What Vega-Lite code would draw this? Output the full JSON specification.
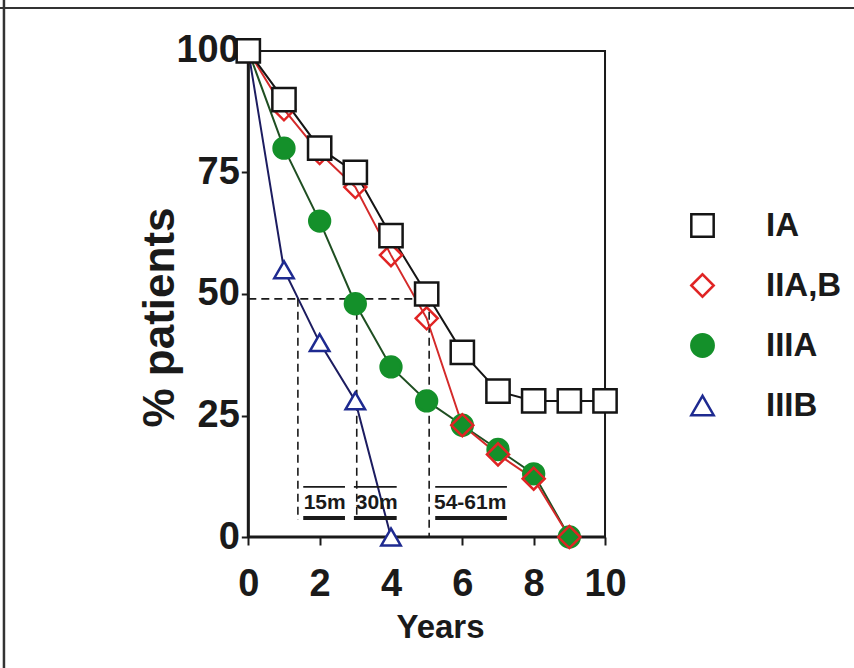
{
  "$schema": "https://vega.github.io/schema/vega-lite/v6.json",
  "width": 854,
  "height": 668,
  "autosize": {"type": "none"},
  "padding": 0,
  "background": "white",
  "config": {
    "view": {"stroke": null},
    "font": "Liberation Sans",
    "axis": {"grid": false, "domain": false}
  },
  "datasets": {
    "surv": [
      {"series": "IIIB", "year": 0, "pct": 100},
      {"series": "IIIB", "year": 1, "pct": 55},
      {"series": "IIIB", "year": 2, "pct": 40},
      {"series": "IIIB", "year": 3, "pct": 28},
      {"series": "IIIB", "year": 4, "pct": 0},
      {"series": "IIIA", "year": 0, "pct": 100},
      {"series": "IIIA", "year": 1, "pct": 80},
      {"series": "IIIA", "year": 2, "pct": 65},
      {"series": "IIIA", "year": 3, "pct": 48},
      {"series": "IIIA", "year": 4, "pct": 35},
      {"series": "IIIA", "year": 5, "pct": 28},
      {"series": "IIIA", "year": 6, "pct": 23},
      {"series": "IIIA", "year": 7, "pct": 18},
      {"series": "IIIA", "year": 8, "pct": 13},
      {"series": "IIIA", "year": 9, "pct": 0},
      {"series": "IIA,B", "year": 0, "pct": 100},
      {"series": "IIA,B", "year": 1, "pct": 88},
      {"series": "IIA,B", "year": 2, "pct": 79},
      {"series": "IIA,B", "year": 3, "pct": 72},
      {"series": "IIA,B", "year": 4, "pct": 58},
      {"series": "IIA,B", "year": 5, "pct": 45},
      {"series": "IIA,B", "year": 6, "pct": 23},
      {"series": "IIA,B", "year": 7, "pct": 17},
      {"series": "IIA,B", "year": 8, "pct": 12},
      {"series": "IIA,B", "year": 9, "pct": 0},
      {"series": "IA", "year": 0, "pct": 100},
      {"series": "IA", "year": 1, "pct": 90},
      {"series": "IA", "year": 2, "pct": 80},
      {"series": "IA", "year": 3, "pct": 75},
      {"series": "IA", "year": 4, "pct": 62},
      {"series": "IA", "year": 5, "pct": 50},
      {"series": "IA", "year": 6, "pct": 38},
      {"series": "IA", "year": 7, "pct": 30},
      {"series": "IA", "year": 8, "pct": 28},
      {"series": "IA", "year": 9, "pct": 28},
      {"series": "IA", "year": 10, "pct": 28}
    ],
    "median": [
      {"x": 0, "y": 49, "x2": 5.07, "y2": 49},
      {"x": 1.39, "y": 49, "x2": 1.39, "y2": 3.5},
      {"x": 3.04, "y": 49, "x2": 3.04, "y2": 3.5},
      {"x": 5.07, "y": 49, "x2": 5.07, "y2": 0}
    ],
    "ann": [
      {"label": "15m", "x": 1.54, "x2": 2.71, "xt": 2.14},
      {"label": "30m", "x": 2.96, "x2": 4.16, "xt": 3.6},
      {"label": "54-61m", "x": 5.24, "x2": 7.25, "xt": 6.22}
    ]
  },
  "resolve": {"axis": {"x": "independent", "y": "independent"}},
  "layer": [
    {
      "data": {"name": "surv"},
      "mark": {"type": "line", "strokeWidth": 2},
      "encoding": {
        "x": {
          "field": "year", "type": "quantitative",
          "scale": {"domain": [-6.961, 16.98], "nice": false, "zero": false},
          "axis": {
            "orient": "bottom", "offset": -131, "values": [0, 2, 4, 6, 8, 10],
            "labelFontSize": 38, "labelFontWeight": "bold", "labelColor": "#1a1a1a",
            "labelPadding": 20, "labelFlush": false, "labelOverlap": false,
            "tickSize": 8, "tickWidth": 2, "tickColor": "#1a1a1a",
            "title": "Years", "titleFontSize": 33, "titleFontWeight": "bold", "titleColor": "#1a1a1a",
            "titleX": 440, "titleY": 100, "titleAlign": "center", "titleBaseline": "alphabetic"
          }
        },
        "y": {
          "field": "pct", "type": "quantitative",
          "scale": {"domain": [-26.95, 110.49], "nice": false, "zero": false},
          "axis": {
            "orient": "left", "offset": -248.3, "values": [0, 25, 50, 75, 100],
            "labelFontSize": 38, "labelFontWeight": "bold", "labelColor": "#1a1a1a",
            "labelPadding": 2, "labelFlush": false, "labelOverlap": false,
            "tickSize": 7, "tickWidth": 2, "tickColor": "#1a1a1a",
            "title": "% patients", "titleFontSize": 44, "titleFontWeight": "bold", "titleColor": "#1a1a1a",
            "titleX": -88, "titleY": 317, "titleAngle": 270, "titleAlign": "center", "titleBaseline": "middle"
          }
        },
        "color": {
          "field": "series", "type": "nominal",
          "scale": {"domain": ["IIIB", "IIIA", "IIA,B", "IA"], "range": ["#1c1c60", "#1f4f22", "#d42a2a", "#151515"]},
          "legend": null
        }
      }
    },
    {
      "data": {"values": [{}]},
      "mark": {"type": "rule", "stroke": "#333333", "strokeWidth": 2.5},
      "encoding": {
        "x": {"datum": -6.85, "type": "quantitative", "axis": null}
      }
    },
    {
      "data": {"values": [{}]},
      "mark": {"type": "rule", "stroke": "#333333", "strokeWidth": 2},
      "encoding": {
        "y": {"datum": 108.85, "type": "quantitative", "axis": null}
      }
    },
    {
      "data": {"values": [{}]},
      "mark": {"type": "rect", "fillOpacity": 0, "stroke": "#1a1a1a", "strokeWidth": 2},
      "encoding": {
        "x": {"datum": 0, "type": "quantitative", "axis": null},
        "x2": {"datum": 10},
        "y": {"datum": 0, "type": "quantitative", "axis": null},
        "y2": {"datum": 100}
      }
    },
    {
      "data": {"name": "median"},
      "mark": {"type": "rule", "stroke": "#1a1a1a", "strokeWidth": 1.6, "strokeDash": [8, 5]},
      "encoding": {
        "x": {"field": "x", "type": "quantitative", "axis": null},
        "x2": {"field": "x2"},
        "y": {"field": "y", "type": "quantitative", "axis": null},
        "y2": {"field": "y2"}
      }
    },
    {
      "data": {"name": "ann"},
      "mark": {"type": "rule", "stroke": "#1a1a1a", "strokeWidth": 1.8},
      "encoding": {
        "x": {"field": "x", "type": "quantitative", "axis": null},
        "x2": {"field": "x2"},
        "y": {"datum": 10.3, "type": "quantitative", "axis": null}
      }
    },
    {
      "data": {"name": "ann"},
      "mark": {"type": "rule", "stroke": "#1a1a1a", "strokeWidth": 4},
      "encoding": {
        "x": {"field": "x", "type": "quantitative", "axis": null},
        "x2": {"field": "x2"},
        "y": {"datum": 3.9, "type": "quantitative", "axis": null}
      }
    },
    {
      "data": {"name": "ann"},
      "mark": {"type": "text", "font": "Liberation Sans", "fontSize": 21, "fontWeight": "bold", "color": "#1a1a1a", "align": "center", "baseline": "middle"},
      "encoding": {
        "x": {"field": "xt", "type": "quantitative", "axis": null},
        "y": {"datum": 6.9, "type": "quantitative", "axis": null},
        "text": {"field": "label"}
      }
    },
    {
      "data": {"values": [{}]},
      "mark": {"type": "rule", "stroke": "#1a1a1a", "strokeWidth": 3},
      "encoding": {
        "x": {"datum": 0, "type": "quantitative", "axis": null},
        "y": {"datum": 0, "type": "quantitative", "axis": null},
        "y2": {"datum": 100}
      }
    },
    {
      "data": {"values": [{}]},
      "mark": {"type": "rule", "stroke": "#1a1a1a", "strokeWidth": 3},
      "encoding": {
        "x": {"datum": 0, "type": "quantitative", "axis": null},
        "x2": {"datum": 10},
        "y": {"datum": 0, "type": "quantitative", "axis": null}
      }
    },
    {
      "data": {"name": "surv"},
      "mark": {"type": "point", "opacity": 1, "fillOpacity": 1, "strokeWidth": 2.5},
      "encoding": {
        "x": {"field": "year", "type": "quantitative", "axis": null},
        "y": {"field": "pct", "type": "quantitative", "axis": null},
        "shape": {
          "field": "series", "type": "nominal",
          "scale": {"domain": ["IA", "IIA,B", "IIIA", "IIIB"], "range": ["square", "diamond", "circle", "triangle-up"]},
          "legend": {"title": null, "orient": "none", "legendX": 686, "legendY": 209, "direction": "vertical", "padding": 0,
            "labelFontSize": 33, "labelFontWeight": "bold", "labelColor": "#1a1a1a", "labelOffset": 47, "rowPadding": 26,
            "symbolSize": 500, "symbolStrokeWidth": 2.5}
        },
        "stroke": {
          "field": "series", "type": "nominal",
          "scale": {"domain": ["IA", "IIA,B", "IIIA", "IIIB"], "range": ["#151515", "#e02424", "#14902a", "#1e2a90"]},
          "legend": {"title": null, "orient": "none", "legendX": 686, "legendY": 209, "direction": "vertical", "padding": 0,
            "labelFontSize": 33, "labelFontWeight": "bold", "labelColor": "#1a1a1a", "labelOffset": 47, "rowPadding": 26,
            "symbolSize": 500, "symbolStrokeWidth": 2.5}
        },
        "fill": {
          "field": "series", "type": "nominal",
          "scale": {"domain": ["IA", "IIA,B", "IIIA", "IIIB"], "range": ["#ffffff", "transparent", "#14902a", "#ffffff"]},
          "legend": {"title": null, "orient": "none", "legendX": 686, "legendY": 209, "direction": "vertical", "padding": 0,
            "labelFontSize": 33, "labelFontWeight": "bold", "labelColor": "#1a1a1a", "labelOffset": 47, "rowPadding": 26,
            "symbolSize": 500, "symbolStrokeWidth": 2.5}
        },
        "size": {
          "field": "series", "type": "nominal",
          "scale": {"domain": ["IIIB", "IIIA", "IIA,B", "IA"], "range": [380, 540, 300, 440]},
          "legend": null
        }
      }
    }
  ]
}
